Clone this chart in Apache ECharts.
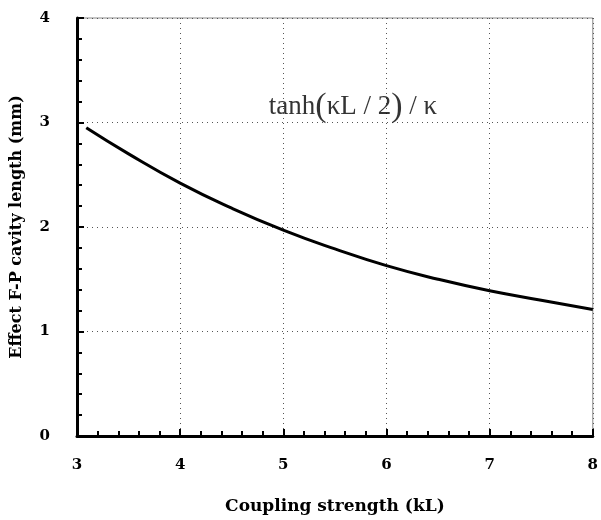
<!DOCTYPE html>
<html>
<head>
<meta charset="utf-8">
<script src="https://cdn.jsdelivr.net/npm/echarts@6/dist/echarts.min.js"></script>
<style>html,body{margin:0;padding:0;background:#fff}#c{width:601px;height:520px}</style>
</head>
<body>
<div id="c"></div>
<script>
// Coupling strength kL and effective F-P cavity length (mm)
const kL = [3.09, 3.5, 4.0, 4.5, 5.0, 5.5, 6.0, 6.5, 7.0, 7.5, 8.0];
const cavityLength = [2.95, 2.70, 2.42, 2.18, 1.97, 1.79, 1.63, 1.50, 1.39, 1.30, 1.21];
const xTicks = [3, 4, 5, 6, 7, 8];
const yTicks = [0, 1, 2, 3, 4];
const formulaAnchor = [4.86, 3.15];

const serifBold = { fontFamily: 'DejaVu Serif', fontWeight: 'bold', color: '#000' };

const chart = echarts.init(document.getElementById('c'));
chart.setOption({
  animation: false,
  backgroundColor: '#fff',
  grid: { left: 77, right: 1, top: 18, bottom: 78, show: true, borderColor: '#888', borderWidth: 1 },
  xAxis: {
    type: 'value', min: xTicks[0], max: xTicks[xTicks.length - 1], interval: 1,
    name: 'Coupling strength (kL)', nameLocation: 'middle', nameGap: 62,
    nameTextStyle: Object.assign({ fontSize: 17 }, serifBold),
    axisLine: { show: true, lineStyle: { color: '#000', width: 3 } },
    axisTick: { show: true, inside: true, length: 7, lineStyle: { color: '#000', width: 2 } },
    minorTick: { show: true, splitNumber: 5, length: 5, lineStyle: { color: '#000', width: 2 } },
    axisLabel: Object.assign({ fontSize: 15, margin: 22 }, serifBold),
    splitLine: { show: true, lineStyle: { color: '#555', type: [1, 4], width: 1 } }
  },
  yAxis: {
    type: 'value', min: yTicks[0], max: yTicks[yTicks.length - 1], interval: 1,
    name: 'Effect F-P cavity length (mm)', nameLocation: 'middle', nameGap: 52,
    nameTextStyle: Object.assign({ fontSize: 16 }, serifBold),
    axisLine: { show: true, lineStyle: { color: '#000', width: 3 } },
    axisTick: { show: true, inside: true, length: 7, lineStyle: { color: '#000', width: 2 } },
    minorTick: { show: true, splitNumber: 5, length: 5, lineStyle: { color: '#000', width: 2 } },
    axisLabel: Object.assign({ fontSize: 15, margin: 27, align: 'right' }, serifBold),
    splitLine: { show: true, lineStyle: { color: '#555', type: [1, 4], width: 1 } }
  },
  series: [
    {
      type: 'line',
      data: kL.map((x, i) => [x, cavityLength[i]]),
      smooth: 0.5,
      showSymbol: false,
      lineStyle: { color: '#000', width: 3 }
    },
    {
      type: 'scatter',
      data: [formulaAnchor],
      symbolSize: 0,
      silent: true,
      label: {
        show: true, position: 'right', distance: 0,
        formatter: 'tanh{p|(}κL / 2{p|)} / κ',
        fontFamily: 'Liberation Serif', fontSize: 27, color: '#000',
        rich: { p: { fontFamily: 'Liberation Serif', fontSize: 34, color: '#000' } }
      }
    }
  ]
});
</script>
</body>
</html>
